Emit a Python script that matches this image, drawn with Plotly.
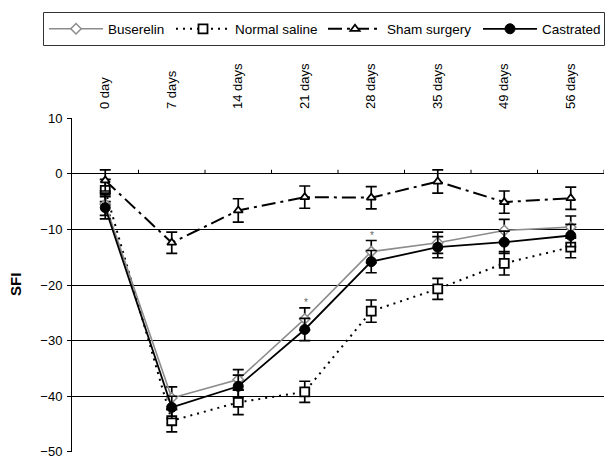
import plotly.graph_objects as go

# ---------------- data ----------------
categories = ["0 day", "7 days", "14 days", "21 days", "28 days", "35 days", "49 days", "56 days"]
x_idx = list(range(len(categories)))

buserelin = [-5.5, -40.3, -37.0, -26.1, -14.0, -12.4, -10.2, -9.6]
buserelin_err = [2.0, 2.0, 1.8, 2.0, 2.0, 1.9, 2.0, 2.0]

normal_saline = [-3.0, -44.4, -41.1, -39.2, -24.7, -20.7, -16.1, -13.2]
normal_saline_err = [2.0, 2.0, 2.2, 1.9, 2.0, 1.9, 2.1, 1.9]

sham_surgery = [-1.2, -12.4, -6.6, -4.2, -4.3, -1.4, -5.1, -4.4]
sham_surgery_err = [1.9, 1.9, 2.1, 2.0, 2.0, 2.1, 2.0, 2.0]

castrated = [-6.1, -42.0, -38.2, -28.0, -15.8, -13.2, -12.3, -11.1]
castrated_err = [2.0, 2.0, 2.0, 2.0, 2.0, 1.9, 2.0, 2.0]

significant_idx = [3, 4]          # asterisks above Buserelin
y_ticks = [10, 0, -10, -20, -30, -40, -50]
dark_grid = [0, -10, -20, -30, -40]
light_grid = [10, -50]
y_range = [-50.02, 10.02]

FONT = "Liberation Sans, Arial, sans-serif"

# ---------------- geometry ----------------
W, H = 605, 456
ML, MR, MT, MB = 72, 1, 118, 4
PW, PH = W - ML - MR, H - MT - MB


def px_x(p):
    return (p - ML) / PW


def px_y(p):
    return (H - MB - p) / PH


fig = go.Figure()


def err(vals):
    return dict(type="data", array=vals, visible=True, color="black",
                thickness=1.7, width=5.5)


fig.add_trace(go.Scatter(
    x=x_idx, y=normal_saline, name="Normal saline", mode="lines+markers",
    line=dict(color="black", width=2, dash="2px,5px"),
    marker=dict(symbol="square", size=9, color="white", line=dict(color="black", width=1.8)),
    error_y=err(normal_saline_err), legend="legend2"))

fig.add_trace(go.Scatter(
    x=x_idx, y=sham_surgery, name="Sham surgery", mode="lines+markers",
    line=dict(color="black", width=2, dash="14px,5px,3px,5px"),
    marker=dict(symbol="triangle-up", size=8, color="white", line=dict(color="black", width=1.8)),
    error_y=err(sham_surgery_err), legend="legend3"))

fig.add_trace(go.Scatter(
    x=x_idx, y=buserelin, name="Buserelin", mode="lines+markers",
    line=dict(color="#8c8c8c", width=1.6),
    marker=dict(symbol="diamond", size=8, color="white", line=dict(color="#8c8c8c", width=1.5)),
    error_y=err(buserelin_err), legend="legend"))

fig.add_trace(go.Scatter(
    x=x_idx, y=castrated, name="Castrated", mode="lines+markers",
    line=dict(color="black", width=1.8),
    marker=dict(symbol="circle", size=10, color="black", line=dict(color="black", width=1)),
    error_y=err(castrated_err), legend="legend4"))

shapes = []
# small upward tick marks on the zero line between categories
for i in x_idx:
    shapes.append(dict(type="line", xref="x", yref="y", ysizemode="pixel", yanchor=0,
                       x0=i + 0.5, x1=i + 0.5, y0=0, y1=4,
                       line=dict(color="black", width=1), layer="below"))
# legend frame
shapes.append(dict(type="rect", xref="paper", yref="paper",
                   x0=px_x(43.5), x1=px_x(604.5), y0=px_y(45.5), y1=px_y(12.5),
                   line=dict(color="#333333", width=1), fillcolor="rgba(0,0,0,0)"))

annotations = []
for i in significant_idx:
    annotations.append(dict(x=i, y=buserelin[i] + buserelin_err[i], xref="x", yref="y",
                            text="*", showarrow=False, yanchor="bottom", xshift=1, yshift=-2,
                            font=dict(size=10, color="#666666", family=FONT)))
annotations.append(dict(x=px_x(15), y=-20, xref="paper", yref="y", text="<b>SFI</b>",
                        showarrow=False, textangle=-90, xanchor="center", yanchor="middle",
                        font=dict(size=15, color="black", family=FONT)))


def legend_at(px):
    return dict(orientation="h", x=px_x(px), xanchor="left", y=px_y(29), yanchor="middle",
                borderwidth=0, bgcolor="rgba(0,0,0,0)", itemwidth=54,
                font=dict(size=13.5, family=FONT, color="black"))


fig.update_layout(
    width=W, height=H,
    margin=dict(l=ML, r=MR, t=MT, b=MB, pad=0, autoexpand=False),
    paper_bgcolor="white", plot_bgcolor="white",
    font=dict(family=FONT, size=13, color="black"),
    showlegend=True,
    legend=legend_at(44),
    legend2=legend_at(171),
    legend3=legend_at(323),
    legend4=legend_at(478),
    xaxis=dict(range=[-0.5, 7.5], tickmode="array", tickvals=x_idx, ticktext=categories,
               side="top", tickangle=-90, showline=False, showgrid=False, zeroline=False,
               ticks="", ticklabelstandoff=8, automargin=False,
               tickfont=dict(size=13, family=FONT)),
    yaxis=dict(range=y_range, tickmode="array", tickvals=y_ticks,
               ticks="outside", ticklen=4, tickcolor="black", tickwidth=1,
               showline=True, linecolor="black", linewidth=1, ticklabelstandoff=2,
               ticklabeloverflow="allow",
               showgrid=False, zeroline=False, automargin=False,
               tickfont=dict(size=13, family=FONT)),
    yaxis2=dict(range=y_range, overlaying="y", tickmode="array", tickvals=dark_grid,
                showgrid=True, gridcolor="black", gridwidth=1, showticklabels=False,
                ticks="", showline=False, zeroline=False, automargin=False),
    yaxis3=dict(range=y_range, overlaying="y", tickmode="array", tickvals=light_grid,
                showgrid=True, gridcolor="#d9d9d9", gridwidth=1, showticklabels=False,
                ticks="", showline=False, zeroline=False, automargin=False),
    shapes=shapes, annotations=annotations,
)

# invisible helper traces that activate the overlay grid axes
fig.add_trace(go.Scatter(x=[None], y=[None], yaxis="y2", showlegend=False, hoverinfo="skip"))
fig.add_trace(go.Scatter(x=[None], y=[None], yaxis="y3", showlegend=False, hoverinfo="skip"))

fig.write_html("out.html", config={"displayModeBar": False},
               post_script="document.body.style.margin='0';document.body.style.overflow='hidden';")
